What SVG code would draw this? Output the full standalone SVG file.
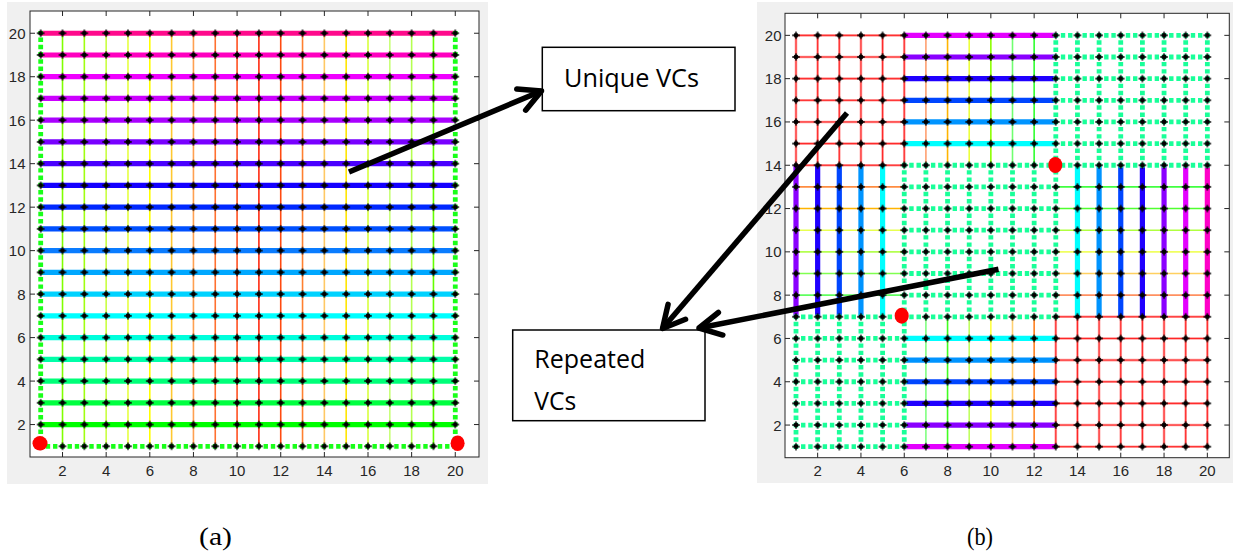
<svg xmlns="http://www.w3.org/2000/svg" width="1233" height="555" viewBox="0 0 1233 555">
  <style>
    .panel { fill: #f0f0f0; }
    .axes { fill: #ffffff; stroke: #262626; stroke-width: 1; }
    .tick { fill: none; stroke: #262626; stroke-width: 1; }
    .tl { font-family: "Liberation Sans", Arial, sans-serif; font-size: 15px; fill: #262626; }
    .tlx { text-anchor: middle; }
    .tly { text-anchor: end; }
    .thin { fill: none; stroke-width: 1.6; }
    .thick { fill: none; stroke-width: 5.2; }
    .dotA { fill: none; stroke: #19ff19; stroke-width: 4.8; stroke-dasharray: 4.4 2.86; }
    .dotB { fill: none; stroke: #19ff99; stroke-width: 4.8; stroke-dasharray: 4.4 2.82; }
    .redHalo { fill: none; stroke: #ffa0a0; stroke-width: 2.6; }
    .redCore { fill: none; stroke: #ff1010; stroke-width: 0.9; }
    .hit { fill: #ff0000; }
    .box { fill: #ffffff; stroke: #000000; stroke-width: 1.5; }
    .lbl { font-family: "Open Sans", "Liberation Sans", sans-serif; font-size: 26px; fill: #000000; }
    .cap { font-family: "Liberation Serif", "Times New Roman", serif; font-size: 26px; fill: #000000; }
    .arrow { fill: none; stroke: #000000; stroke-width: 5.5; marker-end: url(#chev); }
  </style>
  <defs>
    <!-- node marker tile for the 20x20 lattice of panel (a) -->
    <pattern id="nodesA" patternUnits="userSpaceOnUse" x="29.79" y="22.37" width="21.82" height="21.74">
      <g transform="translate(10.91 10.87)">
        <circle r="2.4" fill="#000"/>
        <path d="M-3.8 0H3.8M0 -3.8V3.8" stroke="#000" stroke-width="1.3"/>
      </g>
    </pattern>
    <!-- node marker tile for the 20x20 lattice of panel (b) -->
    <pattern id="nodesB" patternUnits="userSpaceOnUse" x="785.175" y="24.525" width="21.65" height="21.65">
      <g transform="translate(10.825 10.825)">
        <circle r="2.4" fill="#000"/>
        <path d="M-3.8 0H3.8M0 -3.8V3.8" stroke="#000" stroke-width="1.3"/>
      </g>
    </pattern>
    <marker id="chev" markerUnits="userSpaceOnUse" viewBox="-30 -20 40 40" markerWidth="40" markerHeight="40" refX="0" refY="0" orient="auto" overflow="visible">
      <path d="M-22 -11.5L0 0L-22 11.5" fill="none" stroke="#000" stroke-width="5.5" stroke-linecap="round" stroke-linejoin="round"/>
    </marker>
    <!-- red sub-grids of panel (b) -->
    <path id="redGridB" d="M796 165.25H904.25M796 143.6H904.25M796 121.95H904.25M796 100.3H904.25M796 78.65H904.25M796 57H904.25M796 35.35H904.25
      M796 165.25V35.35M817.65 165.25V35.35M839.3 165.25V35.35M860.95 165.25V35.35M882.6 165.25V35.35M904.25 165.25V35.35
      M1055.8 446.7H1207.35M1055.8 425.05H1207.35M1055.8 403.4H1207.35M1055.8 381.75H1207.35M1055.8 360.1H1207.35M1055.8 338.45H1207.35M1055.8 316.8H1207.35
      M1055.8 446.7V316.8M1077.45 446.7V316.8M1099.1 446.7V316.8M1120.75 446.7V316.8M1142.4 446.7V316.8M1164.05 446.7V316.8M1185.7 446.7V316.8M1207.35 446.7V316.8"/>
  </defs>

  <!-- panel (a): 20x20 mesh -->
  <g id="panel-a">
    <rect class="panel" x="7" y="2" width="481" height="482"/>
    <rect class="axes" x="30" y="11" width="449" height="446"/>
    <g id="a-columns">
      <line class="thin" x1="62.52" y1="446.3" x2="62.52" y2="33.24" stroke="#80ff00"/>
      <line class="thin" x1="84.34" y1="446.3" x2="84.34" y2="33.24" stroke="#a0ff10"/>
      <line class="thin" x1="106.16" y1="446.3" x2="106.16" y2="33.24" stroke="#c8ff40"/>
      <line class="thin" x1="127.98" y1="446.3" x2="127.98" y2="33.24" stroke="#e6ff40"/>
      <line class="thin" x1="149.8" y1="446.3" x2="149.8" y2="33.24" stroke="#ffff00"/>
      <line class="thin" x1="171.62" y1="446.3" x2="171.62" y2="33.24" stroke="#ffc830"/>
      <line class="thin" x1="193.44" y1="446.3" x2="193.44" y2="33.24" stroke="#ffa050"/>
      <line class="thin" x1="215.26" y1="446.3" x2="215.26" y2="33.24" stroke="#ff7030"/>
      <line class="thin" x1="237.08" y1="446.3" x2="237.08" y2="33.24" stroke="#ff5020"/>
      <line class="thin" x1="258.9" y1="446.3" x2="258.9" y2="33.24" stroke="#ff2a10"/>
      <line class="thin" x1="280.72" y1="446.3" x2="280.72" y2="33.24" stroke="#ff4a10"/>
      <line class="thin" x1="302.54" y1="446.3" x2="302.54" y2="33.24" stroke="#ff8030"/>
      <line class="thin" x1="324.36" y1="446.3" x2="324.36" y2="33.24" stroke="#ffc864"/>
      <line class="thin" x1="346.18" y1="446.3" x2="346.18" y2="33.24" stroke="#ffe600"/>
      <line class="thin" x1="368" y1="446.3" x2="368" y2="33.24" stroke="#d7ff3c"/>
      <line class="thin" x1="389.82" y1="446.3" x2="389.82" y2="33.24" stroke="#c8ff78"/>
      <line class="thin" x1="411.64" y1="446.3" x2="411.64" y2="33.24" stroke="#b4ff50"/>
      <line class="thin" x1="433.46" y1="446.3" x2="433.46" y2="33.24" stroke="#64ff00"/>
    </g>
    <g id="a-rows">
      <line class="thick" x1="40.7" y1="424.56" x2="455.28" y2="424.56" stroke="#00ff00"/>
      <line class="thick" x1="40.7" y1="402.82" x2="455.28" y2="402.82" stroke="#00ff40"/>
      <line class="thick" x1="40.7" y1="381.08" x2="455.28" y2="381.08" stroke="#00ff78"/>
      <line class="thick" x1="40.7" y1="359.34" x2="455.28" y2="359.34" stroke="#00ffa8"/>
      <line class="thick" x1="40.7" y1="337.6" x2="455.28" y2="337.6" stroke="#00ffdc"/>
      <line class="thick" x1="40.7" y1="315.86" x2="455.28" y2="315.86" stroke="#00ffff"/>
      <line class="thick" x1="40.7" y1="294.12" x2="455.28" y2="294.12" stroke="#00d2ff"/>
      <line class="thick" x1="40.7" y1="272.38" x2="455.28" y2="272.38" stroke="#00a8ff"/>
      <line class="thick" x1="40.7" y1="250.64" x2="455.28" y2="250.64" stroke="#0a7cff"/>
      <line class="thick" x1="40.7" y1="228.9" x2="455.28" y2="228.9" stroke="#0050ff"/>
      <line class="thick" x1="40.7" y1="207.16" x2="455.28" y2="207.16" stroke="#0028ff"/>
      <line class="thick" x1="40.7" y1="185.42" x2="455.28" y2="185.42" stroke="#1400ff"/>
      <line class="thick" x1="40.7" y1="163.68" x2="455.28" y2="163.68" stroke="#4a00ff"/>
      <line class="thick" x1="40.7" y1="141.94" x2="455.28" y2="141.94" stroke="#7800ff"/>
      <line class="thick" x1="40.7" y1="120.2" x2="455.28" y2="120.2" stroke="#aa00ff"/>
      <line class="thick" x1="40.7" y1="98.46" x2="455.28" y2="98.46" stroke="#cc00ff"/>
      <line class="thick" x1="40.7" y1="76.72" x2="455.28" y2="76.72" stroke="#f000ff"/>
      <line class="thick" x1="40.7" y1="54.98" x2="455.28" y2="54.98" stroke="#ff00c0"/>
      <line class="thick" x1="40.7" y1="33.24" x2="455.28" y2="33.24" stroke="#ff0a8c"/>
    </g>
    <path class="dotA" d="M40.7 448.5V31M38.5 446.3H457.5M455.28 448.5V31"/>
    <rect x="29.79" y="22.37" width="436.4" height="434.8" fill="url(#nodesA)"/>
    <ellipse class="hit" cx="40" cy="443.3" rx="7.5" ry="7.2"/>
    <ellipse class="hit" cx="457.6" cy="443.3" rx="7" ry="7.8"/>
    <path class="tick" d="M62.52 457v-5M106.16 457v-5M149.8 457v-5M193.44 457v-5M237.08 457v-5M280.72 457v-5M324.36 457v-5M368 457v-5M411.64 457v-5M455.28 457v-5
      M62.52 11v5M106.16 11v5M149.8 11v5M193.44 11v5M237.08 11v5M280.72 11v5M324.36 11v5M368 11v5M411.64 11v5M455.28 11v5
      M30 424.56h5M30 381.08h5M30 337.6h5M30 294.12h5M30 250.64h5M30 207.16h5M30 163.68h5M30 120.2h5M30 76.72h5M30 33.24h5
      M479 424.56h-5M479 381.08h-5M479 337.6h-5M479 294.12h-5M479 250.64h-5M479 207.16h-5M479 163.68h-5M479 120.2h-5M479 76.72h-5M479 33.24h-5"/>
    <g class="tl tlx">
      <text x="62.52" y="475.5">2</text>
      <text x="106.16" y="475.5">4</text>
      <text x="149.8" y="475.5">6</text>
      <text x="193.44" y="475.5">8</text>
      <text x="237.08" y="475.5">10</text>
      <text x="280.72" y="475.5">12</text>
      <text x="324.36" y="475.5">14</text>
      <text x="368" y="475.5">16</text>
      <text x="411.64" y="475.5">18</text>
      <text x="455.28" y="475.5">20</text>
    </g>
    <g class="tl tly">
      <text x="25.5" y="430">2</text>
      <text x="25.5" y="386.5">4</text>
      <text x="25.5" y="343">6</text>
      <text x="25.5" y="299.6">8</text>
      <text x="25.5" y="256.1">10</text>
      <text x="25.5" y="212.6">12</text>
      <text x="25.5" y="169.1">14</text>
      <text x="25.5" y="125.6">16</text>
      <text x="25.5" y="82.2">18</text>
      <text x="25.5" y="38.7">20</text>
    </g>
  </g>

  <!-- panel (b): mesh split into blocks -->
  <g id="panel-b">
    <rect class="panel" x="757" y="2" width="476" height="481"/>
    <rect class="axes" x="785" y="13.3" width="444.3" height="444.4"/>
    <g id="b-thin">
      <!-- upper middle columns -->
      <line class="thin" x1="925.9" y1="165.25" x2="925.9" y2="35.35" stroke="#ffa070"/>
      <line class="thin" x1="947.55" y1="165.25" x2="947.55" y2="35.35" stroke="#ffb400"/>
      <line class="thin" x1="969.2" y1="165.25" x2="969.2" y2="35.35" stroke="#ecff3c"/>
      <line class="thin" x1="990.85" y1="165.25" x2="990.85" y2="35.35" stroke="#8cff00"/>
      <line class="thin" x1="1012.5" y1="165.25" x2="1012.5" y2="35.35" stroke="#70ff70"/>
      <line class="thin" x1="1034.15" y1="165.25" x2="1034.15" y2="35.35" stroke="#30ff30"/>
      <!-- lower middle columns -->
      <line class="thin" x1="925.9" y1="446.7" x2="925.9" y2="316.8" stroke="#80ff80"/>
      <line class="thin" x1="947.55" y1="446.7" x2="947.55" y2="316.8" stroke="#40ff20"/>
      <line class="thin" x1="969.2" y1="446.7" x2="969.2" y2="316.8" stroke="#c0ff60"/>
      <line class="thin" x1="990.85" y1="446.7" x2="990.85" y2="316.8" stroke="#ffff40"/>
      <line class="thin" x1="1012.5" y1="446.7" x2="1012.5" y2="316.8" stroke="#ffd070"/>
      <line class="thin" x1="1034.15" y1="446.7" x2="1034.15" y2="316.8" stroke="#ff8020"/>
      <!-- left middle rows -->
      <line class="thin" x1="796" y1="186.9" x2="904.25" y2="186.9" stroke="#ff8c40"/>
      <line class="thin" x1="796" y1="208.55" x2="904.25" y2="208.55" stroke="#ffb400"/>
      <line class="thin" x1="796" y1="230.2" x2="904.25" y2="230.2" stroke="#e8ff50"/>
      <line class="thin" x1="796" y1="251.85" x2="904.25" y2="251.85" stroke="#b4ff50"/>
      <line class="thin" x1="796" y1="273.5" x2="904.25" y2="273.5" stroke="#80ff50"/>
      <line class="thin" x1="796" y1="295.15" x2="904.25" y2="295.15" stroke="#60ff60"/>
      <!-- right middle rows -->
      <line class="thin" x1="1055.8" y1="186.9" x2="1207.35" y2="186.9" stroke="#40ff40"/>
      <line class="thin" x1="1055.8" y1="208.55" x2="1207.35" y2="208.55" stroke="#50ff30"/>
      <line class="thin" x1="1055.8" y1="230.2" x2="1207.35" y2="230.2" stroke="#b0ff40"/>
      <line class="thin" x1="1055.8" y1="251.85" x2="1207.35" y2="251.85" stroke="#f0ff60"/>
      <line class="thin" x1="1055.8" y1="273.5" x2="1207.35" y2="273.5" stroke="#ffd060"/>
      <line class="thin" x1="1055.8" y1="295.15" x2="1207.35" y2="295.15" stroke="#ff9060"/>
    </g>
    <g id="b-red">
      <use href="#redGridB" class="redHalo"/>
      <use href="#redGridB" class="redCore"/>
    </g>
    <g id="b-thick">
      <!-- upper middle rows -->
      <line class="thick" x1="904.25" y1="35.35" x2="1055.8" y2="35.35" stroke="#e400ff"/>
      <line class="thick" x1="904.25" y1="57" x2="1055.8" y2="57" stroke="#8a00ff"/>
      <line class="thick" x1="904.25" y1="78.65" x2="1055.8" y2="78.65" stroke="#2000ff"/>
      <line class="thick" x1="904.25" y1="100.3" x2="1055.8" y2="100.3" stroke="#0046ff"/>
      <line class="thick" x1="904.25" y1="121.95" x2="1055.8" y2="121.95" stroke="#0094ff"/>
      <line class="thick" x1="904.25" y1="143.6" x2="1055.8" y2="143.6" stroke="#00ffff"/>
      <!-- lower middle rows -->
      <line class="thick" x1="904.25" y1="338.45" x2="1055.8" y2="338.45" stroke="#00ffff"/>
      <line class="thick" x1="904.25" y1="360.1" x2="1055.8" y2="360.1" stroke="#0094ff"/>
      <line class="thick" x1="904.25" y1="381.75" x2="1055.8" y2="381.75" stroke="#0046ff"/>
      <line class="thick" x1="904.25" y1="403.4" x2="1055.8" y2="403.4" stroke="#2000ff"/>
      <line class="thick" x1="904.25" y1="425.05" x2="1055.8" y2="425.05" stroke="#8a00ff"/>
      <line class="thick" x1="904.25" y1="446.7" x2="1055.8" y2="446.7" stroke="#e400ff"/>
      <!-- left middle columns -->
      <line class="thick" x1="796" y1="165.25" x2="796" y2="316.8" stroke="#8a00ff"/>
      <line class="thick" x1="817.65" y1="165.25" x2="817.65" y2="316.8" stroke="#2000ff"/>
      <line class="thick" x1="839.3" y1="165.25" x2="839.3" y2="316.8" stroke="#0046ff"/>
      <line class="thick" x1="860.95" y1="165.25" x2="860.95" y2="316.8" stroke="#0094ff"/>
      <line class="thick" x1="882.6" y1="165.25" x2="882.6" y2="316.8" stroke="#00ffff"/>
      <!-- right middle columns -->
      <line class="thick" x1="1077.45" y1="165.25" x2="1077.45" y2="316.8" stroke="#00ffff"/>
      <line class="thick" x1="1099.1" y1="165.25" x2="1099.1" y2="316.8" stroke="#0094ff"/>
      <line class="thick" x1="1120.75" y1="165.25" x2="1120.75" y2="316.8" stroke="#0046ff"/>
      <line class="thick" x1="1142.4" y1="165.25" x2="1142.4" y2="316.8" stroke="#2000ff"/>
      <line class="thick" x1="1164.05" y1="165.25" x2="1164.05" y2="316.8" stroke="#8a00ff"/>
      <line class="thick" x1="1185.7" y1="165.25" x2="1185.7" y2="316.8" stroke="#e400ff"/>
      <line class="thick" x1="1207.35" y1="165.25" x2="1207.35" y2="316.8" stroke="#ff00c8"/>
    </g>
    <!-- dotted sub-grids -->
    <path class="dotB" d="M793.8 446.7H906.45M793.8 425.05H906.45M793.8 403.4H906.45M793.8 381.75H906.45M793.8 360.1H906.45M793.8 338.45H906.45M793.8 316.8H906.45
      M796 448.9V314.6M817.65 448.9V314.6M839.3 448.9V314.6M860.95 448.9V314.6M882.6 448.9V314.6M904.25 448.9V314.6
      M902.05 316.8H1058M902.05 295.15H1058M902.05 273.5H1058M902.05 251.85H1058M902.05 230.2H1058M902.05 208.55H1058M902.05 186.9H1058M902.05 165.25H1058
      M904.25 319V163.05M925.9 319V163.05M947.55 319V163.05M969.2 319V163.05M990.85 319V163.05M1012.5 319V163.05M1034.15 319V163.05M1055.8 319V163.05
      M1053.6 165.25H1209.55M1053.6 143.6H1209.55M1053.6 121.95H1209.55M1053.6 100.3H1209.55M1053.6 78.65H1209.55M1053.6 57H1209.55M1053.6 35.35H1209.55
      M1055.8 167.45V33.15M1077.45 167.45V33.15M1099.1 167.45V33.15M1120.75 167.45V33.15M1142.4 167.45V33.15M1164.05 167.45V33.15M1185.7 167.45V33.15M1207.35 167.45V33.15"/>
    <rect x="785.175" y="24.525" width="433" height="433" fill="url(#nodesB)"/>
    <ellipse class="hit" cx="901.7" cy="315.7" rx="7" ry="8"/>
    <ellipse class="hit" cx="1055.3" cy="165" rx="7" ry="8"/>
    <path class="tick" d="M817.65 457.7v-5M860.95 457.7v-5M904.25 457.7v-5M947.55 457.7v-5M990.85 457.7v-5M1034.15 457.7v-5M1077.45 457.7v-5M1120.75 457.7v-5M1164.05 457.7v-5M1207.35 457.7v-5
      M817.65 13.3v5M860.95 13.3v5M904.25 13.3v5M947.55 13.3v5M990.85 13.3v5M1034.15 13.3v5M1077.45 13.3v5M1120.75 13.3v5M1164.05 13.3v5M1207.35 13.3v5
      M785 425.05h5M785 381.75h5M785 338.45h5M785 295.15h5M785 251.85h5M785 208.55h5M785 165.25h5M785 121.95h5M785 78.65h5M785 35.35h5
      M1229.3 425.05h-5M1229.3 381.75h-5M1229.3 338.45h-5M1229.3 295.15h-5M1229.3 251.85h-5M1229.3 208.55h-5M1229.3 165.25h-5M1229.3 121.95h-5M1229.3 78.65h-5M1229.3 35.35h-5"/>
    <g class="tl tlx">
      <text x="817.65" y="476">2</text>
      <text x="860.95" y="476">4</text>
      <text x="904.25" y="476">6</text>
      <text x="947.55" y="476">8</text>
      <text x="990.85" y="476">10</text>
      <text x="1034.15" y="476">12</text>
      <text x="1077.45" y="476">14</text>
      <text x="1120.75" y="476">16</text>
      <text x="1164.05" y="476">18</text>
      <text x="1207.35" y="476">20</text>
    </g>
    <g class="tl tly">
      <text x="781.5" y="430.5">2</text>
      <text x="781.5" y="387.2">4</text>
      <text x="781.5" y="343.9">6</text>
      <text x="781.5" y="300.6">8</text>
      <text x="781.5" y="257.3">10</text>
      <text x="781.5" y="214">12</text>
      <text x="781.5" y="170.7">14</text>
      <text x="781.5" y="127.4">16</text>
      <text x="781.5" y="84.1">18</text>
      <text x="781.5" y="40.8">20</text>
    </g>
  </g>

  <!-- callout boxes -->
  <g id="box-unique">
    <rect class="box" x="542.3" y="47.3" width="192.7" height="63.4"/>
    <text class="lbl" x="564" y="86.7" textLength="135" lengthAdjust="spacingAndGlyphs">Unique VCs</text>
  </g>
  <g id="box-repeated">
    <rect class="box" x="512.7" y="330" width="192.3" height="90.7"/>
    <text class="lbl" x="534.3" y="368.3" textLength="111" lengthAdjust="spacingAndGlyphs">Repeated</text>
    <text class="lbl" x="534.3" y="410" textLength="42" lengthAdjust="spacingAndGlyphs">VCs</text>
  </g>

  <!-- captions -->
  <g id="caption-a"><text class="cap" x="199" y="545" textLength="33" lengthAdjust="spacingAndGlyphs">(a)</text></g>
  <g id="caption-b"><text class="cap" x="967" y="545" textLength="26" lengthAdjust="spacingAndGlyphs">(b)</text></g>

  <!-- pointer arrows -->
  <g id="connectors">
    <line class="arrow" x1="349" y1="172" x2="541.5" y2="91"/>
    <line class="arrow" x1="847" y1="113" x2="662.5" y2="328.5"/>
    <line class="arrow" x1="998.5" y1="269.3" x2="699" y2="328"/>
  </g>
</svg>
